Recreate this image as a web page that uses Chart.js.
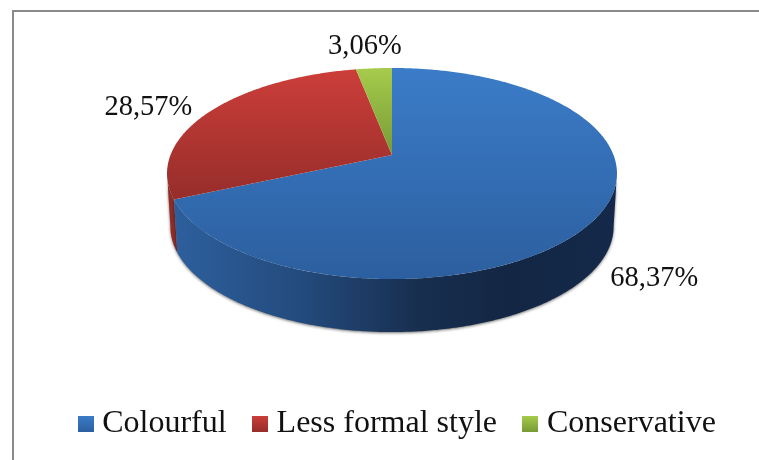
<!DOCTYPE html>
<html>
<head>
<meta charset="utf-8">
<title>Style preference</title>
<style>
  html, body { margin: 0; background: #fff; }
  #wrap { position: relative; width: 759px; height: 460px; overflow: hidden; }
  #frame { position: absolute; left: 12px; top: 10px; right: -10px; bottom: -10px;
           border-left: 2.5px solid #8a8a8a; border-top: 2.5px solid #8a8a8a; }
  canvas { position: absolute; left: 0; top: 0; }
</style>
<script src="https://cdn.jsdelivr.net/npm/chart.js@4"></script>
</head>
<body>
<div id="wrap">
  <div id="frame"></div>
  <canvas id="styleChart" width="759" height="460"></canvas>
</div>
<script>
const categories = ["Colourful", "Less formal style", "Conservative"];
const shares = [68.37, 28.57, 3.06];

const topColors = [["#3b7cc8", "#2c5f9f"], ["#cc3e3a", "#962d2a"], ["#a6cb4c", "#779b35"]];
const sideStops = [
  [[0, "#2e609e"], [0.3, "#234a7c"], [0.55, "#182f50"], [0.75, "#132644"], [1, "#14294a"]],
  [[0, "#8f2c28"], [1, "#8f2c28"]],
  [[0, "#6f8f30"], [1, "#6f8f30"]],
];
// label centre relative to the rim point at each slice's middle angle
const labelOffsets = [[57, 62], [-62, -4], [-9, -22]];

// the disc seen in perspective: near edge is larger than far edge
const disc = { cx: 392, apexY: 155, a: 221.5, b: 102.3, p: 0.1754, depth: 53, bottomScale: 0.985 };
// part of the rim where the wall faces the viewer
const wallFrom = 10 * Math.PI / 180, wallTo = 170 * Math.PI / 180;
const serif = '"Liberation Serif", "Times New Roman", serif';

function rimPoint(angle, lower) {
  const u = Math.cos(angle), v = Math.sin(angle);
  const d = 1 - disc.p * v;
  const x = disc.a * u / d;
  const y = disc.apexY + disc.b * v / d;
  if (!lower) return [disc.cx + x, y];
  return [disc.cx + x * disc.bottomScale, y + disc.depth];
}

function rimPath(start, end, lower) {
  const steps = Math.max(2, Math.ceil((end - start) / 0.01));
  const pts = [];
  for (let i = 0; i <= steps; i++) pts.push(rimPoint(start + (end - start) * i / steps, lower));
  return pts;
}

function legendSwatch(colors) {
  const c = document.createElement("canvas");
  c.width = 16; c.height = 16;
  const g = c.getContext("2d");
  const grad = g.createLinearGradient(0, 0, 0, 16);
  grad.addColorStop(0, colors[0]);
  grad.addColorStop(1, colors[1]);
  g.fillStyle = grad;
  g.fillRect(0, 0, 16, 16);
  return c;
}

// replaces the flat arc drawing with the tilted disc, using the arc angles from the controller
const tiltedPie = {
  id: "tiltedPie",
  beforeDatasetsDraw(chart) {
    const ctx = chart.ctx;
    const arcs = chart.getDatasetMeta(0).data;

    // side walls, back slices first
    for (let i = arcs.length - 1; i >= 0; i--) {
      const start = Math.max(arcs[i].startAngle, wallFrom);
      const end = Math.min(arcs[i].endAngle, wallTo);
      if (end <= start) continue;
      const top = rimPath(start, end, false);
      const bottom = rimPath(start, end, true).reverse();
      const grad = ctx.createLinearGradient(170, 0, 617, 0);
      sideStops[i].forEach(s => grad.addColorStop(s[0], s[1]));
      ctx.save();
      ctx.shadowColor = "rgba(0,0,0,0.55)";
      ctx.shadowBlur = 3;
      ctx.shadowOffsetY = 1;
      ctx.fillStyle = grad;
      ctx.beginPath();
      top.concat(bottom).forEach((p, k) => k ? ctx.lineTo(p[0], p[1]) : ctx.moveTo(p[0], p[1]));
      ctx.closePath();
      ctx.fill();
      ctx.restore();
    }

    // top face
    arcs.forEach((arc, i) => {
      const pts = rimPath(arc.startAngle, arc.endAngle, false);
      const ys = pts.map(p => p[1]).concat(disc.apexY);
      const grad = ctx.createLinearGradient(0, Math.min(...ys), 0, Math.max(...ys));
      grad.addColorStop(0, topColors[i][0]);
      grad.addColorStop(1, topColors[i][1]);
      ctx.fillStyle = grad;
      ctx.beginPath();
      ctx.moveTo(disc.cx, disc.apexY);
      pts.forEach(p => ctx.lineTo(p[0], p[1]));
      ctx.closePath();
      ctx.fill();
    });

    // value labels
    ctx.save();
    ctx.font = "28.5px " + serif;
    ctx.fillStyle = "#111";
    ctx.textAlign = "center";
    ctx.textBaseline = "middle";
    arcs.forEach((arc, i) => {
      const p = rimPoint((arc.startAngle + arc.endAngle) / 2, false);
      ctx.fillText(shares[i].toFixed(2).replace(".", ",") + "%", p[0] + labelOffsets[i][0], p[1] + labelOffsets[i][1]);
    });
    ctx.restore();
    return false;
  },
};

new Chart(document.getElementById("styleChart"), {
  type: "pie",
  data: {
    labels: categories,
    datasets: [{ data: shares, backgroundColor: topColors.map(c => c[0]), borderWidth: 0 }],
  },
  options: {
    responsive: false,
    animation: false,
    layout: { padding: { left: 42, bottom: 10 } },
    plugins: {
      tooltip: { enabled: false },
      legend: {
        position: "bottom",
        labels: {
          color: "#111",
          font: { family: serif, size: 32 },
          padding: 33,
          usePointStyle: true,
          pointStyleWidth: 1,
          generateLabels: () => categories.map((name, i) => ({
            text: name,
            index: i,
            pointStyle: legendSwatch(topColors[i]),
            fontColor: "#111",
            lineWidth: 0,
          })),
        },
      },
    },
  },
  plugins: [tiltedPie],
});
</script>
</body>
</html>
